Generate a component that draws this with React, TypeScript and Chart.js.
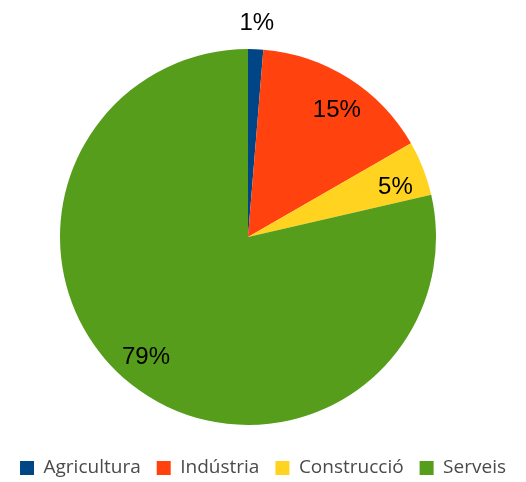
import React, { useEffect, useRef } from "react";
import { Chart, registerables } from "chart.js";

Chart.register(...registerables);

const categories = ["Agricultura", "Indústria", "Construcció", "Serveis"];
const values = [1.3, 15.4, 4.7, 78.6];
const percentLabels = ["1%", "15%", "5%", "79%"];
const colors = ["#004586", "#ff420e", "#ffd320", "#579d1c"];

const labelPlugin = {
  id: "pctLabels",
  afterDatasetsDraw(chart: any) {
    const ctx = chart.ctx;
    const meta = chart.getDatasetMeta(0);
    const total = values.reduce((a, b) => a + b, 0);
    ctx.save();
    ctx.font = "24px 'Liberation Sans', Arial, sans-serif";
    ctx.fillStyle = "#000000";
    ctx.textAlign = "center";
    ctx.textBaseline = "middle";
    meta.data.forEach((arc: any, i: number) => {
      const p = arc.getProps(["x", "y", "startAngle", "endAngle", "outerRadius"], true);
      const small = values[i] / total < 0.02;
      const mid = (p.startAngle + p.endAngle) / 2 + (small ? 0 : 0.04);
      const dist = small ? p.outerRadius + 26 : p.outerRadius * 0.83;
      const x = p.x + Math.cos(mid) * dist;
      const y = p.y + Math.sin(mid) * dist + (small ? 0 : 2);
      ctx.fillText(percentLabels[i], x, y);
    });
    ctx.restore();
  },
};

const shiftPlugin = {
  id: "shiftArea",
  afterLayout(chart: any) {
    const a = chart.chartArea;
    a.right -= 30;
    a.width = a.right - a.left;
  },
};

export default function App() {
  const ref = useRef<HTMLCanvasElement | null>(null);
  useEffect(() => {
    if (!ref.current) return;
    const chart = new Chart(ref.current, {
      type: "pie",
      data: {
        labels: categories,
        datasets: [
          {
            data: values,
            backgroundColor: colors,
            borderWidth: 0,
          },
        ],
      },
      options: {
        animation: false,
        responsive: false,
        radius: 188,
        layout: { padding: { top: 31.5, bottom: -5.5, left: 0, right: 0 } },
        plugins: {
          legend: {
            position: "bottom",
            labels: {
              boxWidth: 14,
              boxHeight: 14,
              padding: 16,
              color: "#4a4a4a",
              font: { family: "'Open Sans', sans-serif", size: 19 },
            },
          },
          tooltip: { enabled: false },
        },
      } as any,
      plugins: [labelPlugin, shiftPlugin],
    });
    return () => chart.destroy();
  }, []);
  return (
    <div style={{ position: "absolute", left: 0, top: 0, width: 526, height: 482, background: "#fff" }}>
      <canvas ref={ref} width={526} height={482} style={{ width: 526, height: 482 }} />
    </div>
  );
}
